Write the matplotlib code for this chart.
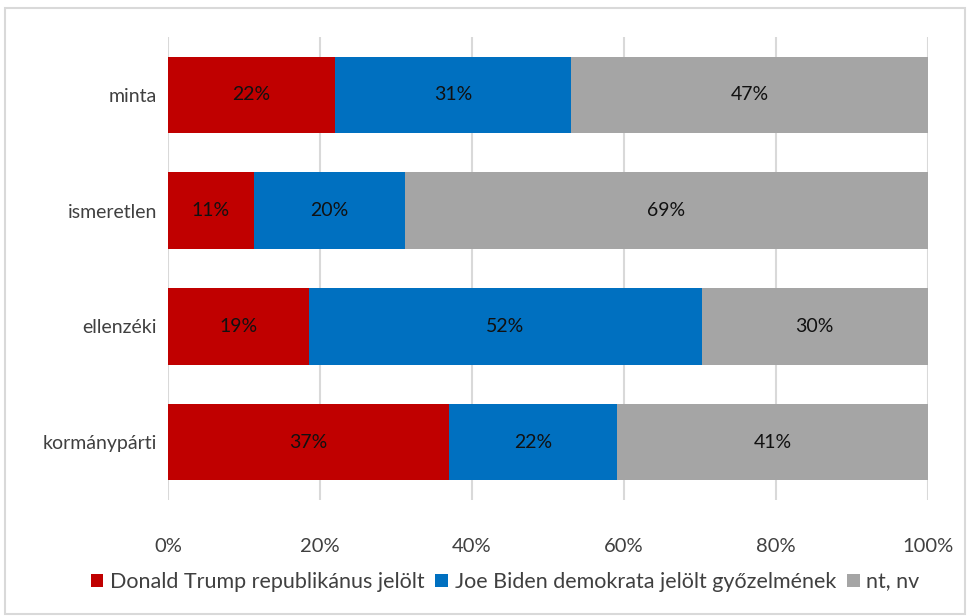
import matplotlib.pyplot as plt
from matplotlib.patches import Rectangle

plt.rcParams['font.family'] = ['Lato', 'DejaVu Sans']

categories = ['kormánypárti', 'ellenzéki', 'ismeretlen', 'minta']
trump = [37.0, 18.6, 11.3, 22.0]
biden = [22.1, 51.6, 19.9, 31.0]
ntnv = [40.9, 29.8, 68.8, 47.0]
series_names = ['Donald Trump republikánus jelölt',
                'Joe Biden demokrata jelölt győzelmének', 'nt, nv']
colors = ['#c00000', '#0070c0', '#a5a5a5']

fig = plt.figure(figsize=(9.68, 6.16), dpi=100)
ax = fig.add_axes([168 / 968, 1 - 500 / 616, 760 / 968, 463 / 616])

y = range(len(categories))
left = [0] * len(categories)
for vals, name, c in zip([trump, biden, ntnv], series_names, colors):
    bars = ax.barh(y, vals, left=left, height=0.66, color=c, label=name, zorder=3)
    for b, v in zip(bars, vals):
        ax.text(b.get_x() + b.get_width() / 2, b.get_y() + b.get_height() / 2,
                f'{v:.0f}%', ha='center', va='center', fontsize=14, color='#111111', zorder=4)
    left = [l + v for l, v in zip(left, vals)]

ax.set_xlim(0, 100)
ax.set_ylim(-0.5, 3.5)
ax.set_yticks(list(y))
ax.set_yticklabels(categories, fontsize=14, color='#404040')
ax.set_xticks([0, 20, 40, 60, 80, 100])
ax.set_xticklabels([f'{t}%' for t in [0, 20, 40, 60, 80, 100]], fontsize=14.5, color='#404040')
ax.tick_params(axis='y', length=0, pad=8)
ax.tick_params(axis='x', length=0, pad=27)
ax.grid(axis='x', color='#d9d9d9', linewidth=1.5, zorder=0)
for s in ax.spines.values():
    s.set_visible(False)

ax.legend(loc='center', bbox_to_anchor=(505 / 968, 1 - 582 / 616), bbox_transform=fig.transFigure,
          ncol=3, frameon=False, fontsize=15.5, handlelength=0.6, handleheight=0.6,
          handletextpad=0.3, columnspacing=0.5, labelcolor='#404040')

fig.patches.append(Rectangle((5 / 968, 2 / 616), 960 / 968, 606 / 616, transform=fig.transFigure,
                             fill=False, edgecolor='#d9d9d9', linewidth=1.5))

fig.savefig('out.png', dpi=100)
